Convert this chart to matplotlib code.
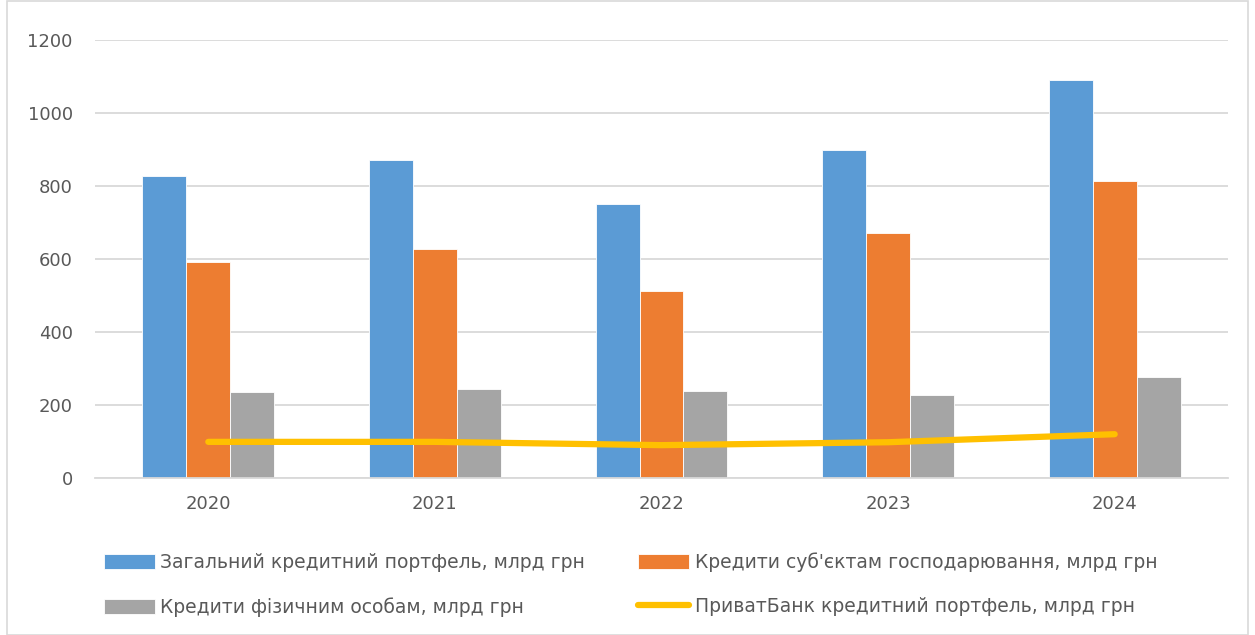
import matplotlib
matplotlib.use("Agg")
import matplotlib.pyplot as plt
import numpy as np
from matplotlib.patches import Rectangle

years = ["2020", "2021", "2022", "2023", "2024"]
total = [827, 871, 751, 899, 1090]
business = [592, 627, 512, 671, 814]
individuals = [236, 244, 238, 227, 277]
privat = [99, 99, 90, 98, 120]

labels = ["Загальний кредитний портфель, млрд грн",
          "Кредити суб'єктам господарювання, млрд грн",
          "Кредити фізичним особам, млрд грн",
          "ПриватБанк кредитний портфель, млрд грн"]
colors = ["#5b9bd5", "#ed7d31", "#a5a5a5", "#ffc000"]

plt.rcParams['font.family'] = ['DejaVu Sans']
fig = plt.figure(figsize=(12.55, 6.35), dpi=100)
ax = fig.add_axes([95/1255, 1-478/635, (1228-95)/1255, (478-40)/635])

x = np.arange(len(years))
w = 0.194
b1 = ax.bar(x - w, total, w, color=colors[0], edgecolor="white", linewidth=0.6, label=labels[0], zorder=2)
b2 = ax.bar(x, business, w, color=colors[1], edgecolor="white", linewidth=0.6, label=labels[1], zorder=2)
b3 = ax.bar(x + w, individuals, w, color=colors[2], edgecolor="white", linewidth=0.6, label=labels[2], zorder=2)
l1, = ax.plot(x, privat, color=colors[3], linewidth=4.5, solid_capstyle="round", label=labels[3], zorder=3)

ax.set_xlim(-0.5, 4.5)
ax.set_ylim(0, 1200)
ax.set_yticks(range(0, 1201, 200))
ax.set_xticks(x)
ax.set_xticklabels(years)
ax.grid(axis="y", color="#d9d9d9", linewidth=1.3, zorder=0)
ax.set_axisbelow(True)
for s in ["top", "right", "left"]:
    ax.spines[s].set_visible(False)
ax.spines["bottom"].set_color("#d9d9d9")
ax.spines["bottom"].set_linewidth(1.3)
ax.tick_params(axis="both", length=0, labelsize=13, labelcolor="#595959")
ax.tick_params(axis="y", pad=16)
ax.tick_params(axis="x", pad=12)

# row-major order: matplotlib fills legend columns first
handles = [b1, b3, b2, l1]
leg_labels = [labels[0], labels[2], labels[1], labels[3]]
leg = fig.legend(handles=handles, labels=leg_labels, loc="upper left",
                 bbox_to_anchor=(87/1255, 1-535/635), ncol=2, frameon=False,
                 fontsize=13.5, handlelength=2.7, handleheight=0.85, columnspacing=2.85,
                 labelspacing=1.35, handletextpad=0.3, labelcolor="#595959")

fig.patches.append(Rectangle((7/1255, 0.5/635), (1248-7)/1255, 1 - 1/635, transform=fig.transFigure,
                             fill=False, edgecolor="#d9d9d9", linewidth=1.2))

fig.savefig("out.png", dpi=100)
